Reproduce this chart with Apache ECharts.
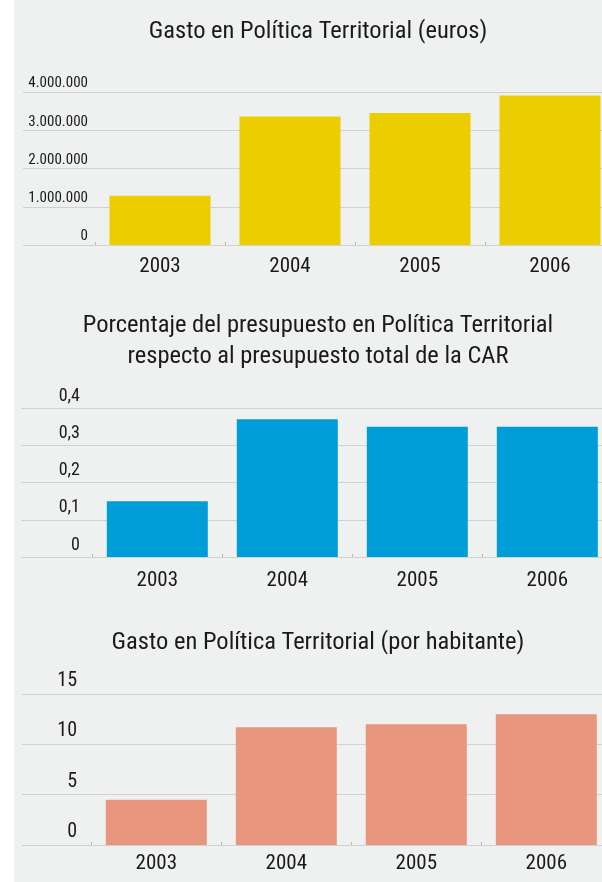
<!DOCTYPE html>
<html>
<head>
<meta charset="utf-8">
<script src="https://cdn.jsdelivr.net/npm/echarts@6/dist/echarts.min.js"></script>
<style>
  html, body { margin: 0; padding: 0; background: #ffffff; overflow: hidden; width: 602px; height: 882px; }
  #chart { width: 640px; height: 882px; background: linear-gradient(to right, #ffffff 14px, #eff0f0 14px); }
</style>
</head>
<body>
<div id="chart"></div>
<script>
// ---- data ----
const years = ['2003', '2004', '2005', '2006'];
const gastoEuros = [1290000, 3360000, 3450000, 3910000];
const porcentaje = [0.15, 0.37, 0.35, 0.35];
const gastoHabitante = [4.5, 11.7, 12.0, 13.0];

const title1 = 'Gasto en Política Territorial (euros)';
const title2 = 'Porcentaje del presupuesto en Política Territorial\nrespecto al presupuesto total de la CAR';
const title3 = 'Gasto en Política Territorial (por habitante)';

// ---- styling ----
const FONT = 'Roboto';
const FW = 'condensed';   // font-stretch keyword goes into the canvas font string
const TXT = '#1a1a1a';
const GRIDC = '#d0d2d2';

const panels = [
  { data: gastoEuros, color: '#eccd00', min: 0, max: 4000000, interval: 1000000,
    fmt: v => String(v).replace(/\B(?=(\d{3})+(?!\d))/g, '.'),
    top: 92, height: 153, lineLeft: 23, barLeft: 95, labelRight: 88, yFont: 15, lift: 1, xMargin: 11 },
  { data: porcentaje, color: '#009ed8', min: 0, max: 0.4, interval: 0.1,
    fmt: v => (Math.round(v * 10) / 10).toString().replace('.', ','),
    top: 408, height: 149, lineLeft: 21, barLeft: 92.3, labelRight: 80, yFont: 18, lift: 3, xMargin: 13 },
  { data: gastoHabitante, color: '#e9967e', min: 0, max: 15, interval: 5,
    fmt: v => String(v),
    top: 694, height: 151, lineLeft: 22, barLeft: 91.3, labelRight: 77, yFont: 20, lift: 3, xMargin: 8 }
];

const grid = [], xAxis = [], yAxis = [], series = [];
panels.forEach((p, i) => {
  const gA = grid.length;
  grid.push({ left: p.lineLeft, right: 0, top: p.top, height: p.height, containLabel: false });
  grid.push({ left: p.barLeft, width: 520, top: p.top, height: p.height, containLabel: false });
  // gridlines + y labels spanning the full width
  xAxis.push({ gridIndex: gA, type: 'value', min: 0, max: 1, show: false });
  yAxis.push({ gridIndex: gA, type: 'value', min: p.min, max: p.max, interval: p.interval,
    axisLine: { show: false }, axisTick: { show: false },
    splitLine: { show: true, lineStyle: { color: GRIDC, width: 1 } },
    axisLabel: { show: true, margin: -(p.labelRight - p.lineLeft), align: 'right', verticalAlign: 'bottom',
      padding: [0, 0, p.lift, 0], color: TXT, fontFamily: FONT, fontWeight: FW, fontSize: p.yFont, formatter: p.fmt } });
  // category axis for the bars
  xAxis.push({ gridIndex: gA + 1, type: 'category', data: years, boundaryGap: true,
    axisLine: { show: false },
    axisTick: { show: true, inside: true, length: 3, lineStyle: { color: '#b8baba' } },
    axisLabel: { color: TXT, fontFamily: FONT, fontWeight: FW, fontSize: 21, margin: p.xMargin } });
  yAxis.push({ gridIndex: gA + 1, type: 'value', min: p.min, max: p.max, interval: p.interval, show: false,
    splitLine: { show: false } });
  series.push({ type: 'bar', xAxisIndex: gA + 1, yAxisIndex: gA + 1, data: p.data, barWidth: 101,
    itemStyle: { color: p.color }, silent: true, z: 3 });
});

const titleStyle = { fontFamily: FONT, fontSize: 24.5, fontWeight: FW, color: TXT };
const chart = echarts.init(document.getElementById('chart'), null, { renderer: 'canvas' });
chart.setOption({
  animation: false,
  backgroundColor: 'transparent',
  title: [
    { text: title1, left: 313, top: 27, textAlign: 'center', textVerticalAlign: 'middle', textStyle: titleStyle },
    { text: title2, left: 313, top: 336, textAlign: 'center', textVerticalAlign: 'middle',
      textStyle: Object.assign({}, titleStyle, { lineHeight: 31 }) },
    { text: title3, left: 313, top: 638, textAlign: 'center', textVerticalAlign: 'middle', textStyle: titleStyle }
  ],
  grid, xAxis, yAxis, series
});
</script>
</body>
</html>
